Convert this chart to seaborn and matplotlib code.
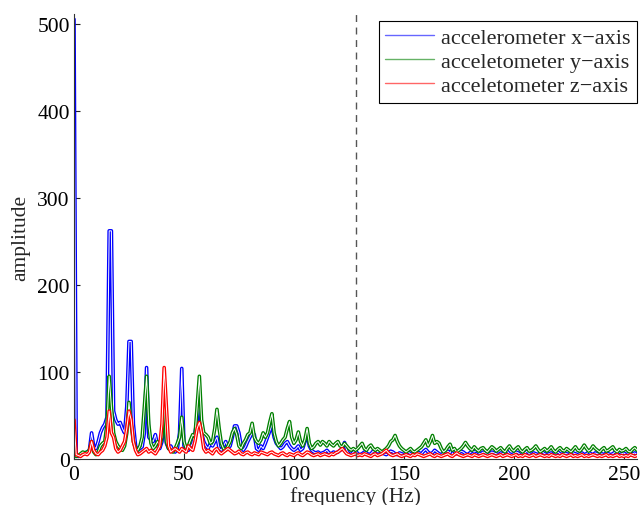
import numpy as np
import pandas as pd
import matplotlib
matplotlib.use("Agg")
import matplotlib.pyplot as plt
import matplotlib.patheffects as pe
from matplotlib.lines import Line2D
import seaborn as sns

series_names = ["accelerometer x\u2212axis", "acceletometer y\u2212axis", "acceletometer z\u2212axis"]
series_colors = ["#0000ff", "#008000", "#ff0000"]
x_ticks = [0, 50, 100, 150, 200, 250]
y_ticks = [0, 100, 200, 300, 400, 500]
cutoff_freq = 128

freq = list(range(0, 257))

amp_x = [
    505, 4, 3, 5, 6, 7, 8, 10, 30, 14,
    12, 20, 30, 36, 40, 48, 262, 262, 55, 45,
    40, 42, 35, 30, 60, 135, 135, 40, 15, 10,
    12, 14, 30, 105, 25, 22, 20, 28, 15, 12,
    20, 50, 18, 12, 15, 10, 8, 12, 30, 104,
    15, 12, 10, 14, 18, 30, 45, 67, 30, 20,
    15, 12, 18, 15, 20, 25, 12, 10, 15, 20,
    12, 15, 25, 38, 38, 30, 15, 10, 14, 20,
    25, 30, 28, 12, 10, 15, 12, 18, 25, 32,
    39, 25, 18, 15, 12, 14, 18, 20, 15, 12,
    10, 12, 15, 10, 12, 20, 29, 15, 10, 8,
    7, 8, 6, 7, 8, 10, 7, 6, 8, 7,
    8, 10, 12, 19, 10, 6, 5, 8, 10, 6,
    5, 6, 8, 7, 5, 6, 9, 7, 5, 6,
    8, 6, 5, 7, 9, 8, 6, 5, 7, 6,
    5, 7, 8, 6, 5, 6, 8, 7, 6, 9,
    11, 8, 6, 7, 10, 8, 6, 5, 7, 8,
    9, 7, 12, 8, 6, 7, 9, 8, 6, 5,
    7, 9, 8, 10, 7, 6, 8, 7, 5, 6,
    8, 7, 6, 5, 7, 6, 8, 9, 6, 5,
    6, 8, 7, 5, 6, 7, 9, 6, 5, 7,
    6, 5, 7, 8, 6, 5, 6, 7, 5, 6,
    8, 6, 5, 7, 6, 5, 8, 7, 6, 5,
    6, 7, 5, 6, 8, 6, 5, 7, 6, 5,
    6, 5, 7, 6, 5, 6, 8, 6, 5, 6,
    7, 5, 6, 5, 6, 7, 5,
]

amp_y = [
    10, 3, 4, 6, 8, 7, 8, 10, 20, 8,
    5, 8, 15, 18, 20, 40, 95, 60, 30, 20,
    15, 12, 10, 15, 30, 65, 40, 20, 12, 10,
    15, 25, 60, 95, 40, 18, 12, 15, 20, 15,
    25, 65, 20, 12, 10, 8, 12, 18, 25, 48,
    20, 12, 15, 22, 28, 26, 60, 95, 45, 30,
    28, 25, 18, 20, 35, 57, 35, 18, 12, 10,
    15, 20, 30, 35, 28, 15, 12, 18, 22, 28,
    30, 41, 25, 20, 18, 22, 30, 25, 30, 42,
    52, 30, 20, 15, 18, 22, 25, 35, 43, 25,
    18, 22, 31, 20, 15, 22, 35, 18, 12, 14,
    18, 20, 16, 20, 18, 15, 20, 17, 15, 18,
    20, 15, 14, 18, 15, 12, 10, 12, 10, 12,
    15, 18, 12, 10, 14, 16, 12, 10, 12, 10,
    8, 10, 12, 15, 20, 22, 27, 20, 15, 12,
    10, 8, 10, 12, 9, 8, 10, 12, 14, 18,
    22, 15, 20, 27, 18, 20, 18, 12, 8, 10,
    14, 17, 10, 12, 8, 10, 12, 15, 19, 15,
    12, 10, 14, 11, 9, 12, 13, 10, 8, 11,
    14, 12, 9, 11, 13, 10, 8, 12, 15, 11,
    9, 12, 14, 10, 8, 11, 13, 9, 10, 12,
    15, 11, 8, 10, 12, 9, 11, 14, 10, 8,
    11, 13, 10, 9, 12, 10, 8, 11, 14, 10,
    9, 12, 16, 12, 9, 11, 15, 12, 10, 8,
    11, 13, 9, 10, 12, 14, 10, 8, 11, 9,
    10, 12, 9, 8, 11, 13, 10,
]

amp_z = [
    45, 5, 4, 3, 5, 6, 5, 8, 20, 10,
    6, 5, 8, 10, 15, 25, 55, 30, 25, 12,
    8, 10, 15, 20, 35, 55, 45, 20, 10, 5,
    6, 8, 10, 12, 8, 10, 8, 6, 10, 15,
    40, 105, 60, 15, 8, 10, 12, 10, 8, 12,
    10, 8, 15, 12, 10, 20, 35, 42, 30, 12,
    8, 10, 8, 6, 10, 12, 8, 6, 8, 10,
    12, 10, 8, 6, 7, 9, 6, 5, 7, 8,
    6, 5, 7, 6, 5, 8, 7, 6, 5, 7,
    8, 6, 5, 4, 6, 7, 5, 4, 6, 5,
    4, 6, 7, 5, 4, 6, 8, 7, 5, 4,
    5, 6, 4, 5, 6, 5, 4, 6, 5, 7,
    8, 10, 12, 9, 6, 5, 4, 5, 6, 4,
    5, 4, 6, 5, 4, 3, 5, 6, 4, 5,
    6, 8, 10, 7, 5, 4, 5, 6, 4, 3,
    4, 5, 4, 3, 5, 4, 6, 5, 4, 3,
    4, 5, 6, 4, 3, 5, 4, 3, 4, 5,
    6, 4, 3, 5, 7, 5, 4, 3, 4, 5,
    4, 3, 5, 4, 3, 4, 5, 4, 3, 4,
    5, 4, 3, 4, 5, 3, 4, 5, 4, 3,
    4, 5, 3, 4, 3, 5, 4, 3, 4, 5,
    3, 4, 5, 4, 3, 4, 3, 5, 4, 3,
    4, 3, 5, 4, 3, 4, 5, 3, 4, 3,
    4, 5, 3, 4, 3, 4, 5, 4, 3, 4,
    3, 4, 5, 3, 4, 3, 4, 5, 3, 4,
    3, 4, 3, 5, 4, 3, 4,
]

frames = []
for name, amp in zip(series_names, [amp_x, amp_y, amp_z]):
    frames.append(pd.DataFrame({"freq": freq, "amp": amp, "series": name}))
df = pd.concat(frames, ignore_index=True)

sns.set_style("ticks")
plt.rcParams["font.family"] = ["Liberation Serif", "DejaVu Serif"]

fig = plt.figure(figsize=(6.41, 5.06), dpi=100)
ax = fig.add_axes([74 / 641, 46 / 506, 563 / 641, 445 / 506])

sns.lineplot(data=df, x="freq", y="amp", hue="series", hue_order=series_names,
             palette=series_colors, ax=ax, legend=False, estimator=None,
             linewidth=0.7, sort=False)

for line, col in zip(ax.get_lines(), series_colors):
    line.set_color("white")
    line.set_linewidth(0.7)
    line.set_path_effects([pe.Stroke(linewidth=2.6, foreground=col), pe.Normal()])

ax.axvline(cutoff_freq, color="#555555", linestyle=(0, (5, 4)), linewidth=1.0)

ax.set_xlim(0, 256)
ax.set_ylim(0, 511)
ax.set_xticks(x_ticks)
ax.set_yticks(y_ticks)
ax.tick_params(direction="in", length=4, width=0.8, labelsize=15.5, colors="#222222",
               labelcolor="black")
ax.tick_params(axis="x", pad=4)
ax.tick_params(axis="y", pad=3)
for s in ["top", "right"]:
    ax.spines[s].set_visible(False)
for s in ["left", "bottom"]:
    ax.spines[s].set_color("#333333")
    ax.spines[s].set_linewidth(0.8)

ax.set_xlabel("frequency (Hz)", fontsize=15.5, labelpad=2)
ax.set_ylabel("amplitude", fontsize=15.5, labelpad=5)

handles = [Line2D([0], [0], color=c, linewidth=1.0, alpha=0.6) for c in series_colors]
leg = ax.legend(handles, series_names, loc="upper right",
                bbox_to_anchor=(1.0, 1.0 - 7 / 445),
                fontsize=16, frameon=True, fancybox=False, framealpha=1,
                edgecolor="black", borderpad=0.3, labelspacing=0.15,
                handlelength=2.2, handletextpad=0.3, borderaxespad=0.0)
leg.get_frame().set_linewidth(0.8)

fig.savefig("out.png", dpi=100)
